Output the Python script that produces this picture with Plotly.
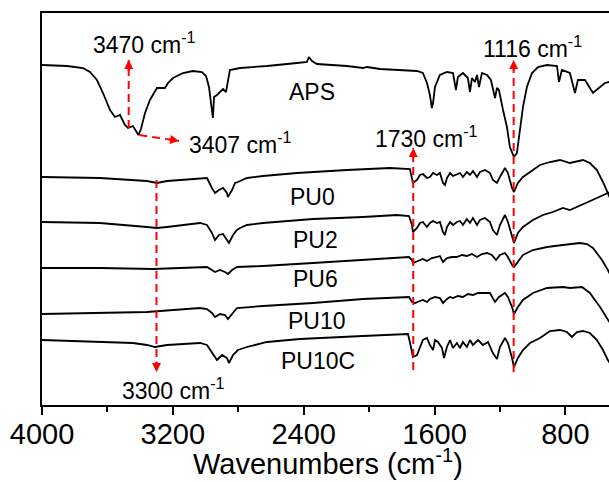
import plotly.graph_objects as go

# Wavenumbers (cm^-1) and offset transmittance (a.u.)
aps_w = [4000, 3847, 3749, 3707, 3664, 3627, 3584, 3554, 3523, 3493, 3474, 3444, 3410, 3395, 3370, 3340,
         3297, 3248, 3230, 3199, 3138, 3077, 3022, 2997, 2979, 2967, 2955, 2948, 2930, 2912, 2893, 2875,
         2863, 2851, 2789, 2624, 2441, 2380, 2368, 2349, 2319, 2239, 2135, 2037, 2013, 1933, 1829, 1707,
         1671, 1646, 1628, 1616, 1609, 1597, 1567, 1524, 1487, 1469, 1457, 1426, 1396, 1383, 1371, 1353,
         1340, 1328, 1310, 1279, 1255, 1243, 1230, 1218, 1206, 1181, 1157, 1139, 1114, 1096, 1078, 1059,
         1035, 1004, 967, 912, 851, 839, 821, 772, 741, 723, 680, 631, 588, 558, 533, 500]
aps_t = [340, 339, 337, 333, 325, 312, 295, 288, 290, 280, 277, 279, 270, 276, 292, 305,
         317, 317, 322, 327, 332, 334, 333, 329, 318, 305, 287, 308, 310, 313, 316, 313,
         325, 335, 337, 339, 342, 343, 348, 344, 341, 340, 339, 337, 338, 336, 335, 334,
         332, 322, 310, 297, 302, 318, 330, 333, 332, 315, 328, 332, 327, 313, 327, 323,
         330, 318, 332, 330, 325, 317, 307, 317, 315, 295, 278, 258, 248, 252, 272, 298,
         318, 332, 338, 340, 339, 323, 335, 332, 312, 325, 325, 312, 318, 322, 323, 322]

pu0_w = [4000, 3645, 3358, 3297, 3236, 3034, 2991, 2961, 2942, 2918, 2893, 2869, 2863, 2838, 2820, 2802,
         2777, 2747, 2649, 2441, 2135, 1872, 1750, 1738, 1732, 1707, 1689, 1671, 1646, 1628, 1609, 1585,
         1567, 1548, 1536, 1524, 1505, 1487, 1463, 1444, 1426, 1402, 1383, 1365, 1340, 1322, 1291, 1261,
         1243, 1218, 1200, 1169, 1151, 1126, 1114, 1090, 1059, 1016, 955, 894, 833, 772, 729, 692,
         650, 607, 570, 540, 500]
pu0_t = [228, 227, 224, 222, 224, 227, 227, 217, 212, 215, 217, 212, 208, 215, 222, 223,
         225, 227, 229, 232, 235, 237, 236, 228, 222, 225, 230, 231, 227, 228, 232, 230,
         232, 222, 220, 227, 232, 229, 231, 232, 228, 233, 230, 234, 228, 233, 235, 232,
         225, 222, 228, 237, 232, 217, 213, 222, 228, 233, 240, 243, 245, 242, 244, 245,
         242, 235, 223, 212, 197]

pu2_w = [4000, 3645, 3358, 3297, 3236, 3034, 2991, 2961, 2942, 2918, 2893, 2869, 2857, 2832, 2808, 2789,
         2747, 2649, 2343, 2037, 1829, 1756, 1738, 1732, 1707, 1689, 1671, 1646, 1628, 1609, 1585, 1567,
         1548, 1536, 1524, 1505, 1487, 1463, 1444, 1426, 1402, 1383, 1365, 1340, 1322, 1291, 1261, 1243,
         1218, 1200, 1169, 1151, 1126, 1114, 1090, 1059, 998, 937, 876, 815, 772, 729, 668, 607,
         540, 500]
pu2_t = [183, 182, 178, 177, 178, 182, 180, 172, 165, 170, 171, 165, 162, 170, 175, 177,
         180, 182, 186, 188, 190, 189, 180, 173, 177, 182, 183, 178, 182, 184, 182, 183,
         173, 170, 178, 183, 180, 183, 184, 180, 186, 182, 187, 180, 185, 187, 183, 175,
         170, 180, 190, 183, 168, 162, 172, 178, 185, 190, 193, 197, 195, 198, 202, 207,
         212, 215]

pu6_w = [4000, 3645, 3321, 3034, 2991, 2961, 2942, 2912, 2881, 2863, 2838, 2808, 2649, 2343, 2037, 1829,
         1756, 1738, 1732, 1701, 1671, 1646, 1616, 1585, 1567, 1548, 1524, 1493, 1463, 1432, 1402, 1371,
         1340, 1310, 1279, 1249, 1224, 1200, 1169, 1151, 1126, 1114, 1090, 1059, 998, 912, 815, 711,
         668, 631, 576, 540, 500]
pu6_t = [137, 137, 136, 138, 138, 135, 133, 135, 133, 131, 135, 138, 139, 142, 145, 147,
         148, 145, 142, 144, 146, 144, 147, 148, 149, 143, 147, 148, 148, 150, 149, 151,
         148, 151, 152, 150, 145, 150, 152, 148, 140, 138, 143, 150, 155, 158, 160, 162,
         161, 157, 145, 135, 122]

pu10_w = [4000, 3645, 3358, 3034, 2991, 2961, 2942, 2912, 2881, 2863, 2838, 2808, 2649, 2343, 2037, 1829,
          1756, 1738, 1719, 1689, 1671, 1646, 1628, 1597, 1567, 1548, 1524, 1505, 1487, 1457, 1426, 1396,
          1365, 1334, 1304, 1261, 1230, 1206, 1169, 1151, 1126, 1114, 1090, 1059, 998, 912, 815, 772,
          698, 650, 588, 540, 500]
pu10_t = [91, 92, 93, 97, 96, 92, 88, 91, 90, 86, 91, 97, 99, 102, 106, 108,
          108, 103, 102, 104, 105, 103, 106, 108, 107, 102, 106, 108, 107, 109, 108, 111,
          110, 112, 112, 112, 103, 108, 112, 108, 98, 91, 98, 105, 112, 117, 118, 117,
          118, 112, 98, 85, 75]

pu10c_w = [4000, 3645, 3444, 3358, 3309, 3236, 3077, 3034, 2991, 2961, 2930, 2899, 2869, 2857, 2832, 2802,
           2747, 2624, 2423, 2037, 1762, 1744, 1732, 1707, 1689, 1671, 1646, 1628, 1609, 1597, 1579, 1554,
           1542, 1524, 1505, 1487, 1463, 1444, 1426, 1402, 1383, 1365, 1334, 1304, 1273, 1243, 1218, 1200,
           1169, 1151, 1126, 1114, 1090, 1059, 1016, 955, 894, 833, 790, 760, 729, 692, 650, 607,
           570, 540, 500]
pu10c_t = [65, 63, 62, 60, 58, 60, 62, 62, 60, 52, 45, 50, 47, 42, 50, 55,
           58, 63, 66, 69, 71, 58, 48, 50, 58, 65, 67, 60, 55, 65, 63, 57,
           47, 58, 65, 57, 62, 57, 63, 58, 65, 60, 65, 60, 63, 52, 46, 58,
           67, 62, 47, 38, 47, 55, 62, 67, 74, 75, 73, 68, 73, 74, 72, 65,
           55, 45, 35]

series_names = ["APS", "PU0", "PU2", "PU6", "PU10", "PU10C"]
label_w = [2349, 2343, 2330, 2330, 2320, 2310]
label_t = [313, 208, 165, 126, 84, 44]

x_ticks = [4000, 3200, 2400, 1600, 800]
x_minor = [3600, 2800, 2000, 1200]
x_title = "Wavenumbers (cm<sup>-1</sup>)"

FONT = "Arial, Liberation Sans, sans-serif"
RED = "#ff0000"

fig = go.Figure()
for w, t, name in [(aps_w, aps_t, "APS"), (pu0_w, pu0_t, "PU0"), (pu2_w, pu2_t, "PU2"),
                   (pu6_w, pu6_t, "PU6"), (pu10_w, pu10_t, "PU10"), (pu10c_w, pu10c_t, "PU10C")]:
    fig.add_trace(go.Scatter(x=w, y=t, mode="lines", name=name,
                             line=dict(color="black", width=1.8), showlegend=False,
                             hoverinfo="skip"))

annotations = []
for n, xw, yt in zip(series_names, label_w, label_t):
    annotations.append(dict(x=xw, y=yt, text=n, showarrow=False,
                            font=dict(size=23, color="black", family=FONT)))

# peak labels
peak_labels = [("3470 cm<sup>-1</sup>", 3376, 362), ("3407 cm<sup>-1</sup>", 2789, 262),
               ("1730 cm<sup>-1</sup>", 1652, 268), ("1116 cm<sup>-1</sup>", 998, 358),
               ("3300 cm<sup>-1</sup>", 3199, 16)]
for txt, xw, yt in peak_labels:
    annotations.append(dict(x=xw, y=yt, text=txt, showarrow=False,
                            font=dict(size=23, color="black", family=FONT)))

# x-axis title placed as a paper annotation for exact position
annotations.append(dict(xref="paper", yref="paper", x=0.505, y=-0.196, xanchor="center",
                        yanchor="bottom", text=x_title, showarrow=False,
                        font=dict(size=29, color="black", family=FONT)))

# dashed marker lines: (x0, y0, x1 = tip x, y1 = tip y)
marker_lines = [(3470, 277, 3470, 345), (3405, 270, 3162, 264), (3300, 225, 3300, 33),
                (1730, 35, 1730, 257), (1116, 33, 1116, 345)]
shapes = []
for x0, y0, x1, y1 in marker_lines:
    shapes.append(dict(type="line", xref="x", yref="y", x0=x0, y0=y0, x1=x1, y1=y1,
                       line=dict(color=RED, width=2, dash="8px,5px")))
# arrowheads at tips (tail offset in pixels)
heads = [(3470, 345, 0, 12), (3162, 264, -12, -2), (3300, 33, 0, -12),
         (1730, 257, 0, 12), (1116, 345, 0, 12)]
for x1, y1, ax, ay in heads:
    annotations.append(dict(x=x1, y=y1, ax=ax, ay=ay, text="", showarrow=True,
                            arrowhead=2, arrowsize=0.9, arrowwidth=2, arrowcolor=RED))

fig.update_layout(
    width=609, height=482,
    margin=dict(l=42, r=0, t=13, b=77),
    paper_bgcolor="white", plot_bgcolor="white",
    font=dict(family=FONT, color="black"),
    annotations=annotations, shapes=shapes,
    hovermode=False,
    xaxis=dict(range=[4000, 533], autorange=False, showgrid=False, zeroline=False,
               showline=True, linecolor="black", linewidth=1.5, mirror=True,
               ticks="outside", ticklen=8, tickwidth=1.5, tickcolor="black",
               tickvals=x_ticks, ticktext=[str(v) for v in x_ticks],
               ticklabelstandoff=-6,
               tickfont=dict(size=29, family=FONT, color="black"),
               minor=dict(tickvals=x_minor, ticks="outside", ticklen=5, tickwidth=1.5,
                          tickcolor="black")),
    yaxis=dict(range=[0, 392], autorange=False, showgrid=False, zeroline=False,
               showline=True, linecolor="black", linewidth=1.5, mirror=False,
               showticklabels=False, ticks=""),
)

fig.write_html("out.html")
